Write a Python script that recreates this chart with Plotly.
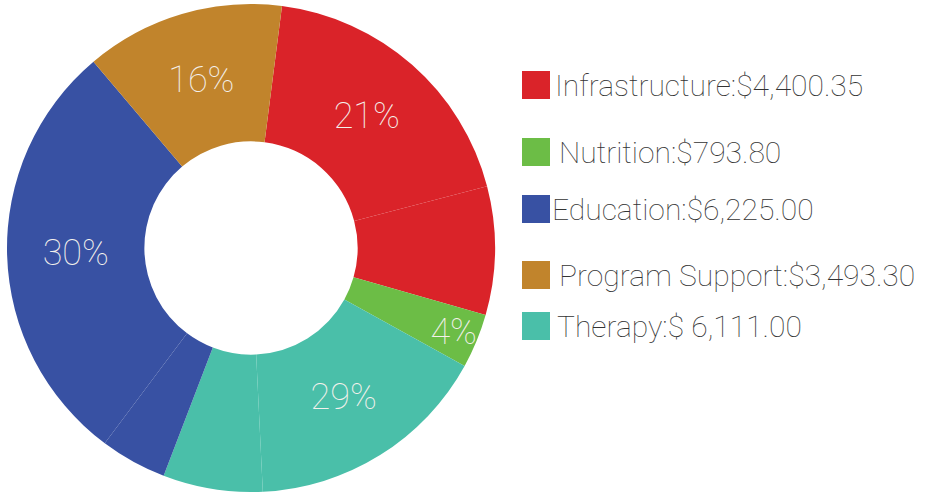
import plotly.graph_objects as go

# ---- data ----
# Ring pieces, clockwise from the first piece (some categories are split in two)
piece_category = ["Infrastructure", "Infrastructure", "Nutrition", "Therapy",
                  "Therapy", "Education", "Education", "Program Support"]
piece_share = [18.9, 8.5, 3.6, 16.2, 6.6, 4.4, 28.6, 13.2]
piece_label = ["21%", "", "4%", "29%", "", "", "30%", "16%"]

# Legend categories
categories = ["Infrastructure", "Nutrition", "Education", "Program Support", "Therapy"]
amount_text = ["$4,400.35", "$793.80", "$6,225.00", "$3,493.30", "$ 6,111.00"]
colors = {
    "Infrastructure": "#DA2329",
    "Nutrition": "#6CBD46",
    "Education": "#3851A3",
    "Program Support": "#C1842C",
    "Therapy": "#4ABFA9",
}

W, H = 928, 493

fig = go.Figure()
fig.add_trace(go.Pie(
    labels=[f"{c} {i}" for i, c in enumerate(piece_category)],
    values=piece_share,
    text=piece_label,
    textinfo="text",
    textposition="inside",
    insidetextorientation="horizontal",
    hole=0.437,
    sort=False,
    direction="clockwise",
    rotation=7.3,
    marker=dict(colors=[colors[c] for c in piece_category], line=dict(width=0)),
    textfont=dict(family="Roboto", size=36, color="#F4F1EC", weight=100),
    domain=dict(x=[7 / W, 495 / W], y=[1 - 492 / H, 1 - 4 / H]),
    showlegend=False,
    hoverinfo="label+value",
))

# custom legend (square + text), positioned in page pixels
legend_y = [85, 152, 209, 275, 326]
legend_text_x = [553, 557, 550, 557, 555]
sq = 28
shapes, annotations = [], []
for cat, amt, yc, tx in zip(categories, amount_text, legend_y, legend_text_x):
    shapes.append(dict(
        type="rect", xref="paper", yref="paper",
        x0=522 / W, x1=(522 + sq) / W,
        y0=1 - (yc + sq / 2) / H, y1=1 - (yc - sq / 2) / H,
        fillcolor=colors[cat], line=dict(width=0),
    ))
    annotations.append(dict(
        xref="paper", yref="paper", x=tx / W, y=1 - yc / H,
        xanchor="left", yanchor="middle", showarrow=False,
        text=f"{cat}:{amt}",
        font=dict(family="Roboto", size=30, color="#333333", weight=100),
    ))

fig.update_layout(
    width=W, height=H,
    margin=dict(l=0, r=0, t=0, b=0),
    paper_bgcolor="white", plot_bgcolor="white",
    shapes=shapes, annotations=annotations,
    uniformtext=dict(minsize=36, mode="show"),
)

fig.write_html("out.html", config={"displayModeBar": False},
               post_script="document.body.style.margin='0px';")
